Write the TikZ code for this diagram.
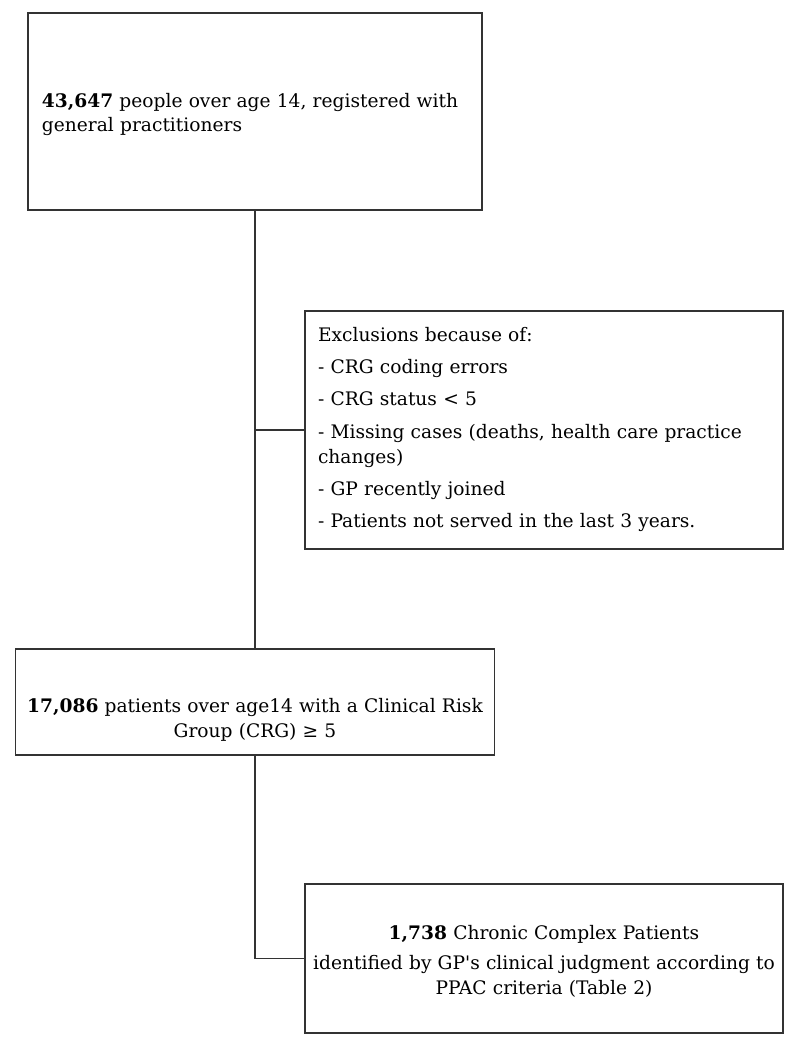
\documentclass[tikz,border=0pt]{standalone}
\usepackage{fontspec}
\setmainfont{DejaVu Serif}
\usepackage{tikz}

% struts for the first and last line of a box
\newcommand{\liftline}[1]{\rule{0pt}{#1}}
\newcommand{\dropline}{\rule[-0.15cm]{0pt}{0.15cm}}

\begin{document}
\begin{tikzpicture}[line width=1.1pt, draw=black!80,
  box/.style={draw=black!80, rectangle, inner sep=0pt, font=\fontsize{10.6}{14.23}\selectfont}]
\useasboundingbox (0,0) rectangle (16,-21.04);
\node[box, font=\fontsize{10.6}{13.66}\selectfont, minimum width=9.08cm, minimum height=3.94cm, text width=8.52cm, align=left] (0) at (5.10,-2.23)
  {\liftline{0.45cm}\textbf{43,647} people over age 14, registered with\\ general practitioners\dropline};
\node[box, minimum width=9.56cm, minimum height=4.76cm, text width=9.04cm, align=left] (1) at (10.88,-8.60)
  {\liftline{0.33cm}Exclusions because of:\\[4.1pt] - CRG coding errors\\[4.1pt] - CRG status < 5\\[4.1pt]
   - Missing cases (deaths, health care practice\\ changes)\\[4.1pt] - GP recently joined\\[4.1pt]
   - Patients not served in the last 3 years.\dropline};
\node[box, minimum width=9.58cm, minimum height=2.12cm, text width=9.4cm, align=center] (2) at (5.10,-14.04)
  {\liftline{1.05cm}\textbf{17,086} patients over age14 with a Clinical Risk\\ Group (CRG) ≥ 5\dropline};
\node[box, minimum width=9.56cm, minimum height=2.98cm, text width=9.4cm, align=center] (3) at (10.88,-19.17)
  {\liftline{0.47cm}\textbf{1,738} Chronic Complex Patients\\[2.85pt] identified by GP\textquotesingle s clinical judgment according to\\ PPAC criteria (Table 2)\dropline};
\draw[draw=black!80] (0.south) -- (2.north)
   (1.west) -- (1.west -| 0.south)
   (2.south) |- (3.west);
\end{tikzpicture}
\end{document}
